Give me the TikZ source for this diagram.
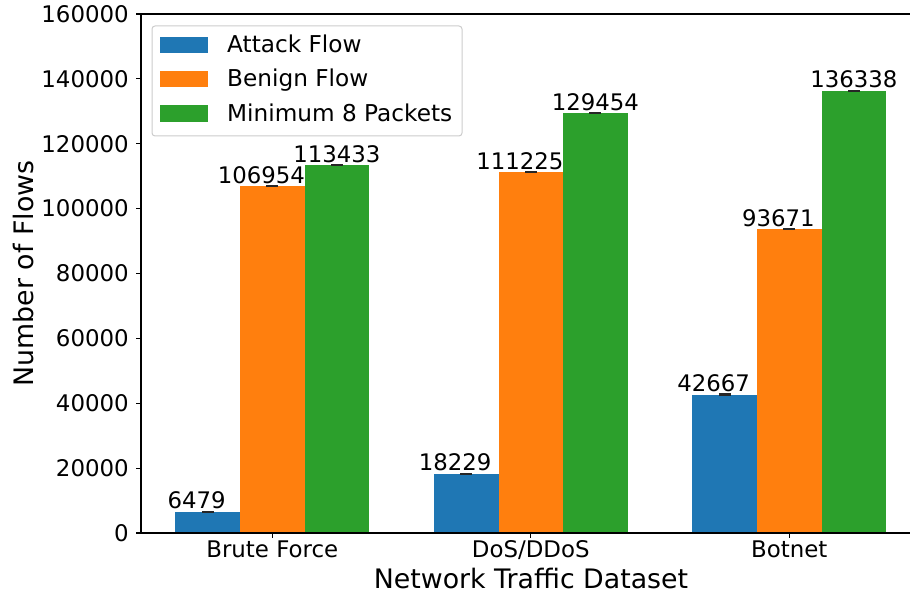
\documentclass[tikz,border=0pt]{standalone}
\usepackage{fontspec}
\setmainfont{DejaVu Sans}
\definecolor{attackc}{HTML}{1F77B4}
\definecolor{benignc}{HTML}{FF7F0E}
\definecolor{minc}{HTML}{2CA02C}
\definecolor{legedge}{HTML}{CCCCCC}
\tikzset{
  vlabel/.style={font=\fontsize{22.8}{27}\selectfont, anchor=base, inner sep=0pt},
  ticklab/.style={font=\fontsize{22.9}{27}\selectfont, inner sep=0pt},
  axlab/.style={font=\fontsize{26.8}{32}\selectfont, inner sep=0pt, anchor=base},
  leglab/.style={font=\fontsize{23.2}{27}\selectfont, inner sep=0pt, anchor=base west},
  spine/.style={line width=1.1pt, black},
  errcap/.style={fill=black!85},
}
\begin{document}
\begin{tikzpicture}[x=1pt,y=1pt]
\useasboundingbox (0,0) rectangle (910,597);
% vertical scale: pt per 1000 flows, baseline of the bars at y=64
\def\yk{3.24375}
% bars, error caps and value labels
\foreach \c/\a/\at/\b/\bt/\m/\mt/\k in {
  272.3/6.479/6479/106.954/106954/113.433/113433/bf,
  530.8/18.229/18229/111.225/111225/129.454/129454/dos,
  789.3/42.667/42667/93.671/93671/136.338/136338/bot}{
  \fill[attackc] ({\c-96.9},64) rectangle ({\c-32.3},{64+\a*\yk});
  \fill[benignc] ({\c-32.3},64) rectangle ({\c+32.3},{64+\b*\yk});
  \fill[minc]    ({\c+32.3},64) rectangle ({\c+96.9},{64+\m*\yk});
  \fill[errcap] ({\c-64.6-6},{64+\a*\yk-1.2}) rectangle ({\c-64.6+6},{64+\a*\yk+1.2});
  \fill[errcap] ({\c-6},{64+\b*\yk-1.2}) rectangle ({\c+6},{64+\b*\yk+1.2});
  \fill[errcap] ({\c+64.6-6},{64+\m*\yk-1.2}) rectangle ({\c+64.6+6},{64+\m*\yk+1.2});
  \node[vlabel] (val-\k-a) at ({\c-64.6-11},{64+\a*\yk+3}) {\at};
  \node[vlabel] (val-\k-b) at ({\c-11},{64+\b*\yk+3}) {\bt};
  \node[vlabel] (val-\k-m) at ({\c+64.6},{64+\m*\yk+3}) {\mt};
}
% spines (right side runs off the page)
\draw[spine] (141,64) -- (141,583);
\draw[spine] (141,583) -- (910,583);
\draw[spine] (141,64) -- (910,64);
% y ticks
\foreach \v/\t in {0/0,20/20000,40/40000,60/60000,80/80000,100/100000,120/120000,140/140000,160/160000}{
  \draw[spine] (136,{64+\v*\yk}) -- (141,{64+\v*\yk});
  \node[ticklab, anchor=east] (yt\v) at (129,{64+\v*\yk}) {\t};
}
% x ticks
\foreach \c/\k in {272.3/bf,530.8/dos,789.3/bot}{
  \draw[spine] (\c,64) -- (\c,59);
}
\node[ticklab, anchor=base] (xt-bf) at (272.3,39) {Brute Force};
\node[ticklab, anchor=base] (xt-dos) at (530.8,39) {DoS/DDoS};
\node[ticklab, anchor=base] (xt-bot) at (789.3,39) {Botnet};
% axis titles
\node[axlab] (xlabel) at (531,9) {Network Traffic Dataset};
\node[axlab, rotate=90] (ylabel) at (33,323.5) {Number of Flows};
% legend
\draw[legedge, fill=white, line width=1pt, rounded corners=3pt] (152,461) rectangle (462,571);
\fill[attackc] (160,544.3) rectangle (208,560.3);
\fill[benignc] (160,509.7) rectangle (208,526.3);
\fill[minc]    (160,475.3) rectangle (208,492);
\node[leglab] (leg-a) at (227,544.3) {Attack Flow};
\node[leglab] (leg-b) at (227,510.3) {Benign Flow};
\node[leglab] (leg-m) at (227,475.5) {Minimum 8 Packets};
\end{tikzpicture}
\end{document}
